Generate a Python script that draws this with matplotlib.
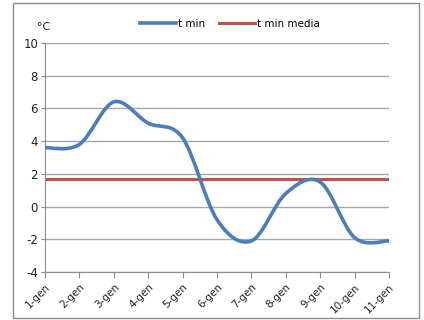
import numpy as np
import matplotlib.pyplot as plt
from matplotlib.path import Path
from matplotlib.patches import PathPatch, Rectangle
from matplotlib.lines import Line2D

plt.rcParams['axes.unicode_minus'] = False

giorni = ['1-gen', '2-gen', '3-gen', '4-gen', '5-gen', '6-gen',
          '7-gen', '8-gen', '9-gen', '10-gen', '11-gen']
t_min = [3.6, 3.8, 6.4, 5.1, 4.2, -0.8, -2.1, 0.8, 1.5, -1.9, -2.1]
t_media = 1.67

blu = '#4a7ebb'
rosso = '#c0504d'


def smooth_path(x, y, k=1/6):
    # curva liscia tipo excel (catmull-rom -> bezier)
    x = np.asarray(x, float)
    y = np.asarray(y, float)
    n = len(x)
    verts = [(x[0], y[0])]
    codes = [Path.MOVETO]
    for i in range(n - 1):
        i0 = max(i - 1, 0)
        i3 = min(i + 2, n - 1)
        c1 = (x[i] + (x[i + 1] - x[i0]) * k, y[i] + (y[i + 1] - y[i0]) * k)
        c2 = (x[i + 1] - (x[i3] - x[i]) * k, y[i + 1] - (y[i3] - y[i]) * k)
        verts += [c1, c2, (x[i + 1], y[i + 1])]
        codes += [Path.CURVE4] * 3
    return Path(verts, codes)


fig = plt.figure(figsize=(4.24, 3.2), dpi=100)
fig.patches.append(Rectangle((13/424, 2/320), 406/424, 315/320,
                             transform=fig.transFigure, fill=False,
                             edgecolor='#8c8c8c', lw=1))

ax = fig.add_axes([45/424, 1 - 272/320, 344/424, 229/320])
xs = np.arange(len(giorni))

ax.add_patch(PathPatch(smooth_path(xs, t_min), fill=False, edgecolor=blu,
                       lw=2.6, capstyle='round', zorder=3))
ax.plot([xs[0], xs[-1]], [t_media, t_media], color=rosso, lw=2.2, zorder=2)

ax.set_xlim(0, len(giorni) - 1)
ax.set_ylim(-4, 10)
ax.set_yticks(range(-4, 11, 2))
ax.set_xticks(xs)
ax.set_xticklabels(giorni, rotation=45, ha='right', rotation_mode='anchor',
                   fontsize=7.5, color='#222222')
ax.tick_params(axis='y', labelsize=8.5, length=3, color='#8c8c8c', pad=2,
               labelcolor='#222222')
ax.tick_params(axis='x', length=4, color='#8c8c8c', pad=3)
ax.grid(axis='y', color='#a6a6a6', lw=1)
ax.set_axisbelow(True)
for s in ['top', 'right']:
    ax.spines[s].set_visible(False)
for s in ['left', 'bottom']:
    ax.spines[s].set_color('#8c8c8c')

fig.text(37/424, 1 - 30/320, '°C', fontsize=8, color='#222222')

handles = [Line2D([], [], color=blu, lw=2.6), Line2D([], [], color=rosso, lw=2.2)]
fig.legend(handles, ['t min', 't min media'], loc='center', ncol=2,
           bbox_to_anchor=(230/424, 1 - 24/320), frameon=False,
           handlelength=3.5, handletextpad=0.2, columnspacing=1.3,
           prop={'size': 7.5})

fig.savefig('out.png', dpi=100)
